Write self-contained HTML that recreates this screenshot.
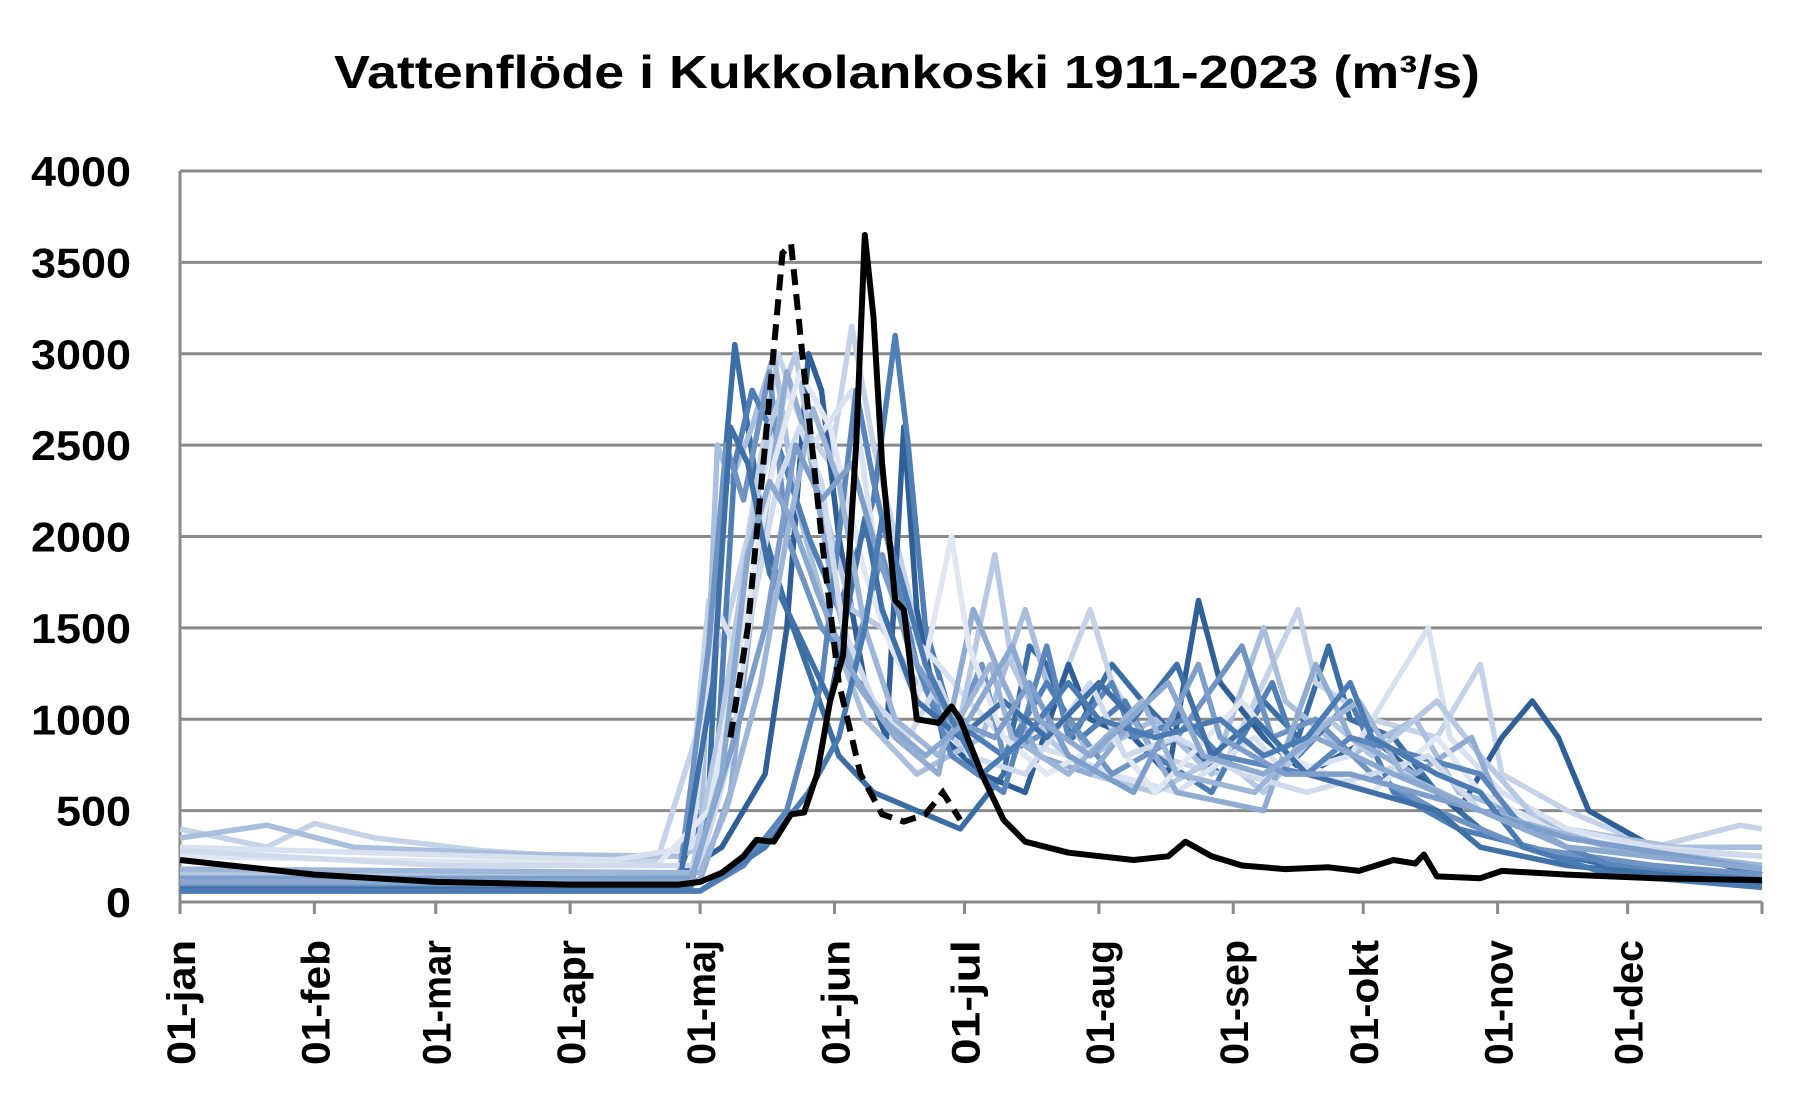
<!DOCTYPE html>
<html><head><meta charset="utf-8"><style>
html,body{margin:0;padding:0;background:#fff;}
svg{display:block;font-family:"Liberation Sans",sans-serif;}
</style></head><body>
<svg id="chart" width="1814" height="1113" viewBox="0 0 1814 1113" xmlns="http://www.w3.org/2000/svg">
<text x="907" y="88" text-anchor="middle" font-size="46" font-weight="bold" textLength="1146" lengthAdjust="spacingAndGlyphs">Vattenflöde i Kukkolankoski 1911-2023 (m³/s)</text>
<g id="grid"></g><g id="series"></g><g id="axes"></g>
</svg>
<script>
const yTicks=[0,500,1000,1500,2000,2500,3000,3500,4000];
const monthDays=[0,31,59,90,120,151,181,212,243,273,304,334];
const monthLabels=["01-jan","01-feb","01-mar","01-apr","01-maj","01-jun","01-jul","01-aug","01-sep","01-okt","01-nov","01-dec"];
const seriesColors=["#3a6ea5","#c4d3e8","#2f5f96","#a9bfdd","#4f7fb5","#d7e1ef","#6f93c2","#b6c8e2","#90acd2","#e0e7f2","#5a86bb","#cfdbec","#3f71a8","#9db6d8","#7d9ecb","#4a7bb2","#8aa8d0"];
const seriesDays=[
[0,100,115,122,126,128,131,135,140,146,152,160,170,180,190,196,200,206,215,222,230,240,250,258,265,270,280,290,300,310,330,365],
[0,10,20,31,45,70,110,119,122,125,131,138,144,150,155,160,168,175,185,200,210,215,225,240,258,262,275,290,300,305,320,340,360,365],
[0,110,125,135,140,145,148,152,158,163,167,170,176,185,195,205,210,220,228,235,240,250,260,275,285,295,305,312,318,325,340,365],
[0,20,40,80,115,120,124,127,132,137,142,150,158,170,185,195,200,210,225,238,250,255,270,285,295,320,345,365],
[0,118,124,128,132,138,145,152,160,165,168,172,178,190,200,208,218,225,238,245,252,258,270,280,295,320,365],
[0,100,118,124,128,133,140,146,155,160,167,175,182,190,205,215,230,248,255,270,288,293,305,320,340,365],
[0,115,122,126,130,136,140,148,155,162,168,178,185,190,205,215,230,245,252,262,275,290,310,340,365],
[0,118,125,130,136,142,148,155,162,170,180,188,192,200,210,225,240,250,265,275,290,300,315,340,365],
[0,120,127,133,140,145,150,156,165,175,183,190,198,210,220,230,250,262,270,285,298,305,320,365],
[0,110,122,130,137,143,150,158,164,170,178,182,190,200,215,225,245,255,275,290,300,320,365],
[0,120,130,140,148,152,156,160,165,170,178,190,200,205,215,220,232,240,260,270,285,300,310,330,365],
[0,60,120,127,132,138,143,148,153,160,168,175,182,195,210,218,230,245,260,275,288,300,330,365],
[0,115,123,127,131,136,142,150,158,162,170,180,190,200,212,220,230,238,248,260,275,290,300,320,365],
[0,120,126,134,140,146,152,158,165,175,187,192,205,222,230,248,260,272,282,300,330,365],
[0,118,128,135,142,148,155,161,170,178,188,196,205,220,235,240,255,270,285,300,320,365],
[0,120,135,145,152,158,162,166,172,178,185,195,205,212,225,240,250,260,270,275,290,300,310,330,365],
[0,118,125,131,136,141,147,154,162,172,182,192,198,210,228,236,250,262,280,300,320,365]
];
const seriesVals=[
[80,80,150,600,2500,3050,2600,2000,1600,1200,800,600,500,400,700,1400,1300,900,1300,1100,900,700,1100,900,1400,1000,900,600,400,300,200,100],
[400,350,300,430,350,280,220,900,1650,1400,2000,3000,2600,2400,3150,2500,1700,1000,700,1000,1600,1200,800,700,1600,1200,1000,900,1300,700,500,300,420,400],
[70,70,300,700,1500,3000,2800,2000,1200,900,2600,1600,900,700,600,1300,1000,900,700,1650,1200,900,700,900,700,500,900,1100,900,500,300,150],
[350,420,300,260,250,300,2500,2300,2600,3000,2200,1500,1000,700,900,1600,1200,800,1000,700,1500,1100,800,1000,600,400,300,300],
[90,90,800,2400,2800,2500,2000,1600,2200,3100,2500,1500,1000,800,1200,900,1100,800,600,900,1200,800,1100,600,400,250,120],
[300,230,300,1600,1400,2200,2800,2500,2800,2000,1500,1300,1100,900,800,700,600,900,700,800,1500,900,600,400,300,250],
[100,100,1400,2500,2200,2900,2000,1500,1300,1900,1400,900,1300,800,1000,700,900,1400,900,1000,700,500,300,200,150],
[150,150,1000,1800,2600,3000,2200,1600,1500,1200,1000,1900,1300,900,700,600,800,600,1000,800,1100,800,400,250,200],
[120,120,600,1800,2900,2500,1800,1200,900,700,1600,1200,800,700,1000,600,500,1300,900,700,900,500,300,200],
[250,200,500,1500,2400,2900,2600,1800,1400,1100,2000,1400,900,700,900,600,1100,800,600,900,600,350,200],
[60,60,200,500,1200,2000,2800,2300,1800,1300,800,600,1400,900,1200,900,1000,800,700,900,800,700,400,200,100],
[280,200,200,800,1600,2300,2600,2300,1500,1100,900,1200,800,700,1200,800,900,700,600,700,800,500,300,250],
[70,70,1200,2600,2400,1800,1500,1100,2100,1600,1100,900,1100,900,1200,1000,1300,800,1000,700,600,500,300,200,100],
[180,160,500,1200,2000,2700,2300,1500,1000,800,1300,900,700,1100,700,600,900,1100,700,500,300,200],
[130,130,900,1500,2500,2200,2400,1900,1300,1000,900,1200,800,600,1300,900,700,700,600,500,350,180],
[60,60,300,600,900,1500,2100,1800,1300,1000,700,900,1200,1000,900,1000,800,900,1200,900,700,600,300,150,80],
[110,110,700,1900,2300,2100,1700,1300,1000,800,1000,1400,1000,800,1200,800,700,900,700,500,300,180]
];
const obsDays=[0,31,59,90,115,120,125,130,133,137,141,144,147,150,153,156,158,160,162,165,167,170,175,178,180,185,190,195,205,220,228,232,238,245,255,265,272,280,285,287,290,300,305,320,340,365];
const obsVals=[230,150,110,95,95,110,160,250,340,330,480,490,700,1100,1350,2500,3650,3200,2400,1650,1600,1000,980,1070,1000,700,450,330,270,230,250,330,250,200,180,190,170,230,210,260,140,130,170,150,130,120];
const dashDays=[127,131,135,139,141,144,148,152,157,162,167,172,176,180];
const dashVals=[900,1500,2500,3550,3600,2900,2000,1200,700,480,440,480,600,450];

const X0=180,X1=1762,Y0=902,Y1=171,NS="http://www.w3.org/2000/svg";
const xs=d=>X0+(X1-X0)*d/365;
const ys=v=>Y0-(Y0-Y1)*v/4000;
function mk(tag,attrs,parent){const e=document.createElementNS(NS,tag);for(const k in attrs)e.setAttribute(k,attrs[k]);parent.appendChild(e);return e;}
const grid=document.getElementById('grid'),ser=document.getElementById('series'),ax=document.getElementById('axes');
yTicks.forEach(t=>{
  const l=mk('line',{x1:X0,x2:X1,y1:ys(t),y2:ys(t),stroke:'#8a8a8a','stroke-width':3},grid);
  
  
  const s=String(t);
  const tx=mk('text',{x:131,y:ys(t)+15,'text-anchor':'end','font-size':42,'font-weight':'bold',textLength:25*s.length,lengthAdjust:'spacingAndGlyphs'},ax);
  tx.textContent=s;
  
  
});
const yl=mk('line',{x1:X0,x2:X0,y1:Y1,y2:Y0,stroke:'#8a8a8a','stroke-width':3},grid);


function pts(d,v){return d.map((x,i)=>xs(x).toFixed(1)+','+ys(v[i]).toFixed(1)).join(' ');}
seriesDays.forEach((d,i)=>{
  const p=mk('polyline',{points:pts(d,seriesVals[i]),fill:'none',stroke:seriesColors[i],'stroke-width':5.5,'stroke-linejoin':'round'},ser);
  
  
});
const ob=mk('polyline',{points:pts(obsDays,obsVals),fill:'none',stroke:'#000','stroke-width':6,'stroke-linejoin':'round'},ser);


const da=mk('polyline',{points:pts(dashDays,dashVals),fill:'none',stroke:'#000','stroke-width':6,'stroke-dasharray':'16,9'},ser);


const xl=mk('line',{x1:X0,x2:X1,y1:Y0,y2:Y0,stroke:'#8a8a8a','stroke-width':3},ax);


[...monthDays,365].forEach(d=>{
  const t=mk('line',{x1:xs(d),x2:xs(d),y1:Y0,y2:Y0+12,stroke:'#8a8a8a','stroke-width':3},ax);
  
  
});
monthDays.forEach((d,i)=>{
  const x=xs(d)+15,y=940;
  const t=mk('text',{x:x,y:y,'text-anchor':'end','font-size':40,'font-weight':'bold',transform:`rotate(-90 ${x} ${y})`,textLength:125,lengthAdjust:'spacingAndGlyphs'},ax);
  t.textContent=monthLabels[i];
  
  
});
</script>
</body></html>
